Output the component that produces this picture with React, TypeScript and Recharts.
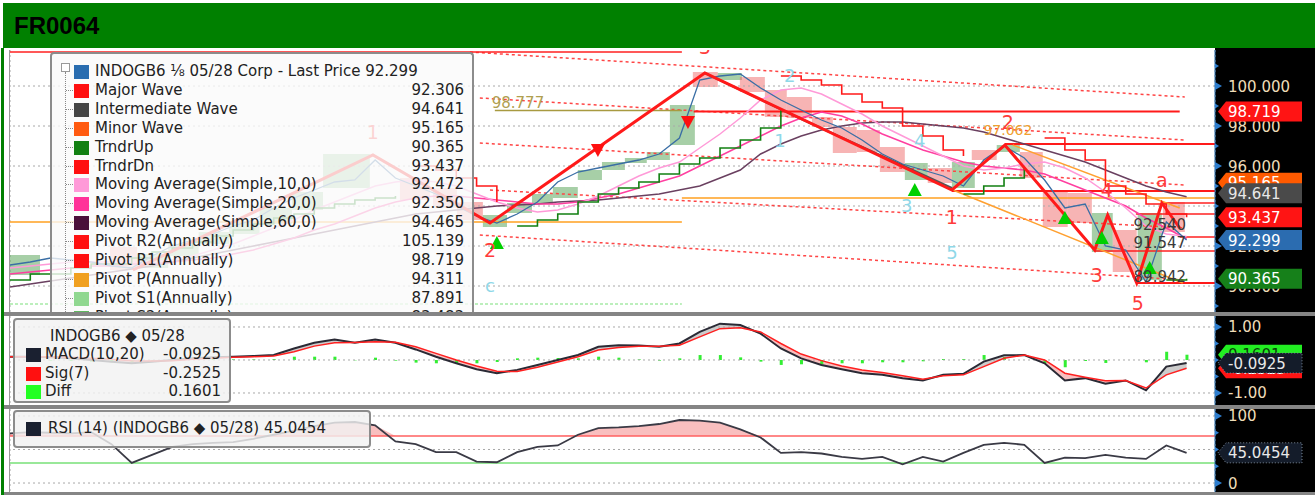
import React from "react";
import {
  ComposedChart,
  Line,
  Area,
  Bar,
  XAxis,
  YAxis,
  CartesianGrid,
  ReferenceLine,
  ReferenceArea,
  ReferenceDot,
} from "recharts";

const FONT = "DejaVu Sans, Verdana, sans-serif";
const X_MAX = 59.4;
// month separators (index units)
const GRID_X = [4.44, 9.36, 14.64, 18.73, 24.0, 29.08, 33.12, 38.2, 42.53, 47.41, 52.24, 56.83];

// ---- price panel series (one value per bar index) ----
const PRICE = [
  91.05, 91.2, 91.4, 91.3, 91.2, 91.0, 90.9, 91.5, 92.0, 92.3,
  92.6, 93.0, 93.3, 93.9, 94.4, 94.8, 95.2, 95.3, 96.3, 95.4,
  95.0, 94.6, 94.0, 93.5, 93.15, 93.6, 94.2, 95.2, 95.7, 95.9,
  96.1, 96.3, 96.6, 97.4, 100.3, 100.5, 100.6, 99.9, 99.3, 98.8,
  98.3, 97.9, 97.3, 96.6, 96.1, 95.8, 95.5, 95.0, 96.3, 97.0,
  96.4, 95.3, 93.9, 94.1, 92.0, 91.8, 90.2, 93.2, 92.299,
];
const MA10 = [
  90.9, 91.0, 91.1, 91.2, 91.2, 91.2, 91.2, 91.2, 91.3, 91.5,
  91.8, 92.1, 92.5, 92.9, 93.3, 93.8, 94.2, 94.6, 95.0, 95.2,
  95.3, 95.2, 95.0, 94.6, 94.2, 93.9, 93.7, 93.8, 94.1, 94.5,
  95.0, 95.5, 95.9, 96.2, 96.9, 97.6, 98.4, 99.3, 99.8, 99.9,
  99.6, 99.1, 98.6, 98.0, 97.5, 97.0, 96.5, 96.0, 95.8, 95.9,
  96.1, 96.2, 95.9, 95.4, 94.7, 93.9, 93.0, 92.6, 92.472,
];
const MA20 = [
  90.6, 90.7, 90.8, 90.9, 91.0, 91.0, 91.1, 91.1, 91.2, 91.3,
  91.4, 91.6, 91.8, 92.1, 92.4, 92.8, 93.1, 93.5, 93.9, 94.2,
  94.4, 94.5, 94.5, 94.4, 94.3, 94.2, 94.1, 94.1, 94.2, 94.4,
  94.6, 94.9, 95.2, 95.5, 96.0, 96.5, 97.0, 97.5, 98.0, 98.4,
  98.7, 98.5, 98.1, 97.6, 97.2, 96.8, 96.5, 96.2, 96.0, 95.9,
  95.8, 95.6, 95.2, 94.8, 94.4, 94.0, 93.4, 92.9, 92.35,
];
const MA60 = [
  89.95, 90.1, 90.25, 90.4, 90.55, 90.7, 90.85, 91.0, 91.2, 91.4,
  91.6, 91.8, 92.0, 92.2, 92.4, 92.6, 92.8, 93.0, 93.2, 93.4,
  93.6, 93.7, 93.8, 93.9, 94.0, 94.05, 94.1, 94.2, 94.25, 94.3,
  94.4, 94.5, 94.6, 94.8, 95.0, 95.4, 95.8, 96.6, 97.1, 97.5,
  97.8, 98.0, 98.15, 98.2, 98.2, 98.1, 98.0, 97.9, 97.7, 97.4,
  97.1, 96.8, 96.5, 96.2, 95.8, 95.4, 95.0, 94.7, 94.465,
];
const TRNDR_UP = [
  90.3, 90.6, 90.6, 90.9, 91.1, 91.1, 91.4, 91.7, 91.9, 92.2,
  92.5, 92.8, 93.1, 93.4, 93.6, 93.9, 94.1, 94.3, 94.4, 94.5,
  null, null, null, null, null, 93.0, 93.3, 93.6, 94.2, 94.6,
  94.9, 95.2, 95.6, 96.1, 96.4, 96.9, 97.3, 97.9, 98.9, null,
  null, null, null, null, null, null, null, 94.6, 95.0, 95.4,
  95.9, null, null, null, null, null, null, 90.3, 90.365,
];
const TRNDR_DN = [
  null, null, null, null, null, null, null, null, null, null,
  null, null, null, null, null, null, null, null, null, null,
  96.0, 95.8, 95.4, 95.0, 94.2, null, null, null, null, null,
  null, null, null, null, null, null, null, null, 100.5, 100.3,
  100.05, 99.6, 99.2, 98.9, 98.0, 97.5, 96.8, 96.5, null, null,
  null, 97.4, 96.8, 96.3, 95.0, 94.6, 94.1, 93.6, 93.437,
];

// wave pivots: [index, price]
const MAJOR_WAVE = [
  [6.06, 90.8], [17.89, 96.55], [23.66, 93.15], [34.25, 100.65], [46.43, 94.8],
  [49.04, 97.05], [53.47, 91.8], [54.11, 93.55], [55.54, 90.15], [56.78, 94.15], [57.66, 92.9],
];
const INTERMEDIATE_WAVE = [[34.25, 100.65], [39.0, 98.35], [46.43, 94.9]];
// channel lines: [fromIndex, fromValue, toIndex, toValue]
const MINOR_CHANNEL = [
  [46.48, 94.8, 57.81, 90.15],
  [49.43, 97.05, 57.66, 93.9],
];
const TREND_DOTTED = [
  [22.67, 101.7, 57.91, 99.45],
  [23.16, 99.4, 57.91, 97.3],
  [23.16, 97.15, 57.91, 95.05],
  [23.66, 94.8, 57.91, 92.9],
  [23.16, 92.55, 57.91, 90.3],
];
// horizontal levels: [value, fromIndex, toIndex, kind]
const LEVELS: [number, number, number, string][] = [
  [101.7, 0, 33.12, "red"],
  [93.2, 0, 33.12, "pivot"],
  [89.1, 0, 33.12, "support"],
  [98.777, 23.9, 33.12, "fib"],
  [98.719, 33.7, 57.66, "redBold"],
  [94.4, 33.12, X_MAX, "pivot"],
  [97.1, 49.04, X_MAX, "redBold"],
  [94.75, 46.43, X_MAX, "redBold"],
  [94.15, 56.78, X_MAX, "red"],
  [93.6, 55.5, X_MAX, "red"],
  [92.45, 57.66, X_MAX, "red"],
  [91.75, 53.47, X_MAX, "red"],
  [90.15, 55.54, X_MAX, "redBold"],
];
// boxes: [fromIndex, toIndex, low, high, up?]
const BOXES: [number, number, number, number, number][] = [
  [0, 1.48, 90.55, 91.55, 1], [4.93, 6.26, 90.8, 91.95, 0],
  [6.26, 7.8, 90.9, 91.6, 1], [7.8, 9.3, 91.5, 92.1, 1], [9.3, 10.8, 92.1, 92.7, 1],
  [10.8, 12.3, 92.6, 93.2, 1], [12.3, 13.9, 93.1, 93.9, 1], [13.9, 15.43, 93.8, 94.7, 1],
  [15.43, 17.74, 94.9, 96.6, 1], [19.22, 20.7, 94.3, 95.4, 0], [20.85, 22.03, 93.9, 94.9, 0],
  [22.03, 23.31, 93.3, 94.2, 0], [23.31, 24.5, 92.95, 93.55, 1], [24.5, 25.73, 93.65, 94.15, 1],
  [25.73, 26.76, 94.1, 94.6, 1], [26.76, 27.99, 94.4, 94.95, 1], [27.99, 29.18, 95.3, 95.8, 1],
  [29.18, 30.31, 95.8, 96.2, 1], [30.31, 31.39, 96.15, 96.4, 1], [31.39, 32.53, 96.3, 96.7, 1],
  [32.53, 33.76, 97.05, 99.05, 1], [33.66, 34.89, 99.95, 100.7, 0], [34.89, 36.08, 100.3, 100.65, 1],
  [35.98, 37.21, 99.7, 100.45, 0], [37.21, 38.29, 98.45, 99.8, 0], [38.29, 39.53, 98.4, 99.45, 0],
  [39.53, 40.56, 97.95, 98.45, 0], [40.56, 41.74, 96.65, 97.95, 0], [41.74, 42.88, 96.7, 97.8, 0],
  [42.88, 44.11, 95.7, 96.95, 0], [44.11, 45.24, 95.3, 96.15, 1], [45.24, 46.43, 95.15, 95.9, 0],
  [46.43, 47.56, 94.9, 96.2, 1], [47.41, 48.64, 96.3, 96.8, 0], [48.64, 49.78, 96.7, 97.05, 1],
  [49.78, 50.91, 95.4, 96.7, 0], [50.91, 52.14, 92.95, 94.8, 0], [52.14, 53.33, 93.15, 94.65, 0],
  [53.33, 54.36, 91.7, 93.65, 1], [54.36, 55.54, 90.7, 92.8, 0], [55.59, 56.78, 90.3, 93.65, 1],
  [56.83, 57.91, 92.7, 94.2, 0],
];
const SIGNAL_UP = [[24.0, 92.15], [44.6, 94.8], [52.0, 93.4], [53.82, 92.4], [56.18, 90.9]];
const SIGNAL_DOWN = [[28.98, 96.8], [33.42, 98.2]];
// annotations: [index, value, text, kind]
const ANNOTATIONS: [number, number, string, string][] = [
  [17.89, 97.7, "1", "major"], [23.66, 91.8, "2", "major"], [34.25, 101.95, "3", "major"],
  [46.43, 93.45, "1", "major"], [49.19, 98.2, "2", "major"], [53.57, 90.55, "3", "major"],
  [54.07, 94.8, "4", "major"], [55.59, 89.15, "5", "major"], [56.78, 95.3, "a", "major"],
  [23.66, 90.05, "c", "minor"], [38.44, 100.55, "2", "minor"], [37.95, 97.3, "1", "minor"],
  [44.85, 97.3, "4", "minor"], [44.2, 94.05, "3", "minor"], [46.43, 91.7, "5", "minor"],
  [49.19, 97.8, "97.062", "orange"], [25.04, 99.15, "98.777", "fib"],
  [56.68, 93.05, "92.540", "level"], [56.68, 92.15, "91.547", "level"], [56.68, 90.45, "89.942", "level"],
];
const PRICE_TICKS = [89, 90, 91, 92, 93, 94, 95, 96, 97, 98, 99, 100, 101];
const PRICE_LABELLED = [90, 92, 96, 98, 100];
const PRICE_GRID = [90, 92, 94, 96, 98, 100];
// last-value tags: [value, text, kind]
const PRICE_TAGS: [number, string, string][] = [
  [95.165, "95.165", "minorWave"],
  [98.719, "98.719", "red"],
  [94.641, "94.641", "gray"],
  [93.437, "93.437", "red"],
  [92.299, "92.299", "blue"],
  [90.365, "90.365", "green"],
];

// ---- MACD panel ----
const MACD = [
  0.1, 0.1, 0.08, 0.05, 0.0, -0.05, -0.1, -0.05, 0.0, 0.05,
  0.08, 0.1, 0.12, 0.15, 0.35, 0.52, 0.62, 0.52, 0.62, 0.52,
  0.32, 0.1, -0.1, -0.28, -0.4, -0.3, -0.15, 0.0, 0.15, 0.4,
  0.45, 0.44, 0.4, 0.5, 0.85, 1.1, 1.06, 0.8, 0.35, 0.05,
  -0.15, -0.28, -0.4, -0.45, -0.55, -0.62, -0.45, -0.42, -0.05, 0.14,
  0.15, -0.1, -0.62, -0.55, -0.72, -0.62, -0.92, -0.2, -0.0925,
];
const SIG = [
  0.1, 0.1, 0.1, 0.08, 0.05, 0.02, -0.02, -0.03, -0.02, 0.02,
  0.05, 0.08, 0.1, 0.12, 0.25, 0.42, 0.52, 0.53, 0.55, 0.54,
  0.4, 0.2, 0.0, -0.18, -0.34, -0.35, -0.22, -0.06, 0.1, 0.3,
  0.38, 0.42, 0.42, 0.45, 0.7, 0.95, 0.98, 0.85, 0.5, 0.18,
  -0.02, -0.18, -0.3, -0.38, -0.48, -0.58, -0.48, -0.45, -0.2, 0.05,
  0.15, 0.0, -0.4, -0.52, -0.63, -0.62, -0.85, -0.45, -0.2525,
];
const DIFF = [
  0.0, 0.0, -0.02, -0.03, -0.05, -0.07, -0.08, -0.02, 0.02, 0.03,
  0.03, 0.02, 0.02, 0.03, 0.1, 0.1, 0.1, -0.01, 0.07, -0.02,
  -0.08, -0.1, -0.1, -0.1, -0.06, 0.05, 0.07, 0.06, 0.05, 0.1,
  0.07, 0.02, -0.02, 0.05, 0.15, 0.15, 0.08, -0.05, -0.15, -0.13,
  -0.13, -0.1, -0.1, -0.07, -0.07, -0.04, 0.03, 0.03, 0.15, 0.09,
  0.0, -0.1, -0.22, -0.03, -0.09, 0.0, -0.07, 0.25, 0.1601,
];
const MACD_TICKS = [-1, -0.5, 0, 0.5, 1];
const MACD_LABELLED = [-1, 1];
const MACD_GRID = [-1, 0, 1];
const MACD_TAGS: [number, string, string][] = [
  [0.1601, "0.1601", "lime"],
  [-0.2525, "-0.2525", "red"],
  [-0.0925, "-0.0925", "navy"],
];

// ---- RSI panel ----
const RSI = [
  74, 76, 75, 74, 76, 58, 30, 42, 54, 58,
  60, 61, 66, 72, 78, 85, 90, 91, 86, 62,
  58, 46, 46, 32, 31, 46, 54, 56, 72, 82,
  83, 85, 88, 94, 93, 90, 80, 68, 45, 46,
  44, 39, 36, 39, 28, 39, 32, 45, 57, 60,
  57, 30, 38, 37, 42, 38, 36, 56, 45.0454,
];
const RSI_TICKS = [0, 25, 50, 75, 100];
const RSI_LABELLED = [0, 100];
const RSI_GRID = [0, 50, 100];
const RSI_TAGS: [number, string, string][] = [[45.0454, "45.0454", "navy"]];

// ---- legends ----
const LEGEND_TITLE = "INDOGB6 \u215B 05/28 Corp - Last Price 92.299";
const LEGEND_NAMES = [
  "Major Wave", "Intermediate Wave", "Minor Wave", "TrndrUp", "TrndrDn",
  "Moving Average(Simple,10,0)", "Moving Average(Simple,20,0)", "Moving Average(Simple,60,0)",
  "Pivot R2(Annually)", "Pivot R1(Annually)", "Pivot P(Annually)", "Pivot S1(Annually)", "Pivot S2(Annually)",
];
const LEGEND_VALUES = [
  "92.306", "94.641", "95.165", "90.365", "93.437", "92.472", "92.350", "94.465",
  "105.139", "98.719", "94.311", "87.891", "83.483",
];
const MACD_NAMES = ["MACD(10,20)", "Sig(7)", "Diff"];
const MACD_VALUES = ["-0.0925", "-0.2525", "0.1601"];

// ---- styles ----
const LEGEND_SWATCH = [
  "#ff1010", "#454545", "#ff5a10", "#128012", "#ff1010", "#ff9ad8", "#ff3399",
  "#4a0f3a", "#ff1010", "#ff1010", "#f0a020", "#90d890", "#60b860",
];
const MACD_SWATCH = ["#1a2030", "#ff1010", "#22ff22"];
const LEVEL_STYLE: Record<string, { stroke: string; width: number; dash?: string }> = {
  red: { stroke: "#ff2020", width: 1.5 },
  redBold: { stroke: "#ff1a1a", width: 2 },
  pivot: { stroke: "#ffa020", width: 1.5 },
  support: { stroke: "#7be07b", width: 1.2, dash: "3 2" },
  fib: { stroke: "#a89a40", width: 1.5 },
};
const TEXT_STYLE: Record<string, { fill: string; size: number }> = {
  major: { fill: "#ff3b3b", size: 19 },
  minor: { fill: "#8fd8e8", size: 18 },
  orange: { fill: "#f0a030", size: 14 },
  fib: { fill: "#b0a050", size: 15 },
  level: { fill: "#3a3a3a", size: 15 },
};
const TAG_STYLE: Record<string, { fill: string; text: string; border?: boolean }> = {
  red: { fill: "#ff1414", text: "#ffffff" },
  minorWave: { fill: "#ff5a00", text: "#ffffff" },
  gray: { fill: "#4a4a4a", text: "#e8e8e8" },
  blue: { fill: "#2b6cb0", text: "#ffffff" },
  green: { fill: "#16801a", text: "#ffffff" },
  lime: { fill: "#22ee22", text: "#0a3a0a" },
  navy: { fill: "#141c2a", text: "#e8e8e8", border: true },
};

const rows = PRICE.map((p, i) => ({
  i,
  price: p,
  ma10: MA10[i],
  ma20: MA20[i],
  ma60: MA60[i],
  up: TRNDR_UP[i],
  dn: TRNDR_DN[i],
}));
const macdRows = MACD.map((m, i) => ({
  i,
  macd: m,
  sig: SIG[i],
  diff: DIFF[i],
  above: [SIG[i], Math.max(SIG[i], m)],
  below: [Math.min(SIG[i], m), SIG[i]],
}));
const rsiRows = RSI.map((r, i) => ({ i, rsi: r, hot: [70, Math.max(70, r)] }));
const toPoints = (pts: number[][]) => pts.map(([i, v]) => ({ i, v }));

function axisTick(labelled: number[], fmt: (v: number) => string) {
  return (props: any) => {
    const { x, y, payload } = props;
    if (!labelled.includes(payload.value)) {
      return <path d={`M${x},${y - 2.5} L${x + 4},${y} L${x},${y + 2.5} Z`} fill="#2f7fd0" />;
    }
    return (
      <g>
        <path d={`M${x},${y - 4} L${x + 7},${y} L${x},${y + 4} Z`} fill="#2f7fd0" />
        <text x={x + 13} y={y + 5.5} fill="#efdcb8" fontSize={15} fontFamily={FONT}>
          {fmt(payload.value)}
        </text>
      </g>
    );
  };
}

function tagShape(text: string, kind: string) {
  const s = TAG_STYLE[kind];
  return (p: any) => {
    const x = p.cx + 3;
    const y = p.cy;
    return (
      <g>
        <path
          d={`M${x},${y} L${x + 8},${y - 10} L${x + 84},${y - 10} L${x + 84},${y + 10} L${x + 8},${y + 10} Z`}
          fill={s.fill}
          stroke={s.border ? "#7d8a99" : "none"}
          strokeDasharray={s.border ? "1 2" : undefined}
        />
        <text x={x + 10} y={y + 5.5} fill={s.text} fontSize={15} fontFamily={FONT}>
          {text}
        </text>
      </g>
    );
  };
}

const triUp = (p: any) => (
  <path d={`M${p.cx},${p.cy - 7} L${p.cx + 7},${p.cy + 6} L${p.cx - 7},${p.cy + 6} Z`} fill="#00d000" />
);
const triDown = (p: any) => (
  <path d={`M${p.cx - 7},${p.cy - 6} L${p.cx + 7},${p.cy - 6} L${p.cx},${p.cy + 7} Z`} fill="#ff1010" />
);
function textShape(text: string, kind: string) {
  const s = TEXT_STYLE[kind];
  return (p: any) => (
    <text
      x={p.cx}
      y={p.cy}
      fill={s.fill}
      fontSize={s.size}
      fontFamily={FONT}
      textAnchor="middle"
      dominantBaseline="central"
    >
      {text}
    </text>
  );
}

function xAxis() {
  return (
    <XAxis
      dataKey="i"
      type="number"
      domain={[0, X_MAX]}
      ticks={GRID_X}
      tick={false}
      tickLine={false}
      axisLine={false}
      height={0}
      allowDataOverflow
    />
  );
}

function yAxis(domain: number[], ticks: number[], labelled: number[], fmt: (v: number) => string) {
  return (
    <YAxis
      orientation="right"
      width={100}
      domain={domain}
      ticks={ticks}
      interval={0}
      allowDataOverflow
      tickSize={0}
      tickMargin={0}
      tickLine={false}
      axisLine={{ stroke: "#2a70b0" }}
      tick={axisTick(labelled, fmt)}
    />
  );
}

function tags(list: [number, string, string][]) {
  return list.map(([v, text, kind], k) => (
    <ReferenceDot
      key={`tag${k}`}
      x={X_MAX}
      y={v}
      r={0}
      shape={tagShape(text, kind)}
      ifOverflow="visible"
      {...({ zIndex: 2500 } as any)}
    />
  ));
}

function PriceChart() {
  return (
    <ComposedChart width={1305} height={262} data={rows} margin={{ top: 0, right: 0, bottom: 0, left: 0 }}>
      <CartesianGrid horizontal={false} stroke="#a8a8a8" strokeDasharray="2 3" />
      {xAxis()}
      {yAxis([88.7, 101.8], PRICE_TICKS, PRICE_LABELLED, (v) => v.toFixed(3))}
      {PRICE_GRID.map((v) => (
        <ReferenceLine key={`g${v}`} y={v} stroke="#a8a8a8" strokeDasharray="2 3" />
      ))}
      {BOXES.map(([a, b, lo, hi, up], k) => (
        <ReferenceArea
          key={`b${k}`}
          x1={a}
          x2={b}
          y1={lo}
          y2={hi}
          fill={up ? "#4f9f4f" : "#f06a6a"}
          fillOpacity={0.5}
          stroke="none"
          ifOverflow="visible"
        />
      ))}
      {TREND_DOTTED.map(([a, va, b, vb], k) => (
        <ReferenceLine
          key={`t${k}`}
          segment={[{ x: a, y: va }, { x: b, y: vb }]}
          stroke="#ff4545"
          strokeWidth={1.5}
          strokeDasharray="3 3"
          ifOverflow="visible"
        />
      ))}
      {LEVELS.map(([v, a, b, kind], k) => (
        <ReferenceLine
          key={`l${k}`}
          segment={[{ x: a, y: v }, { x: b, y: v }]}
          stroke={LEVEL_STYLE[kind].stroke}
          strokeWidth={LEVEL_STYLE[kind].width}
          strokeDasharray={LEVEL_STYLE[kind].dash}
          ifOverflow="visible"
        />
      ))}
      {MINOR_CHANNEL.map(([a, va, b, vb], k) => (
        <ReferenceLine
          key={`m${k}`}
          segment={[{ x: a, y: va }, { x: b, y: vb }]}
          stroke="#ffa030"
          strokeWidth={1.5}
          ifOverflow="visible"
        />
      ))}
      <Line dataKey="ma60" stroke="#6a4060" strokeWidth={1.5} dot={false} activeDot={false} isAnimationActive={false} />
      <Line dataKey="ma20" stroke="#ff3fa0" strokeWidth={1.5} dot={false} activeDot={false} isAnimationActive={false} />
      <Line dataKey="ma10" stroke="#ff9ad8" strokeWidth={1.5} dot={false} activeDot={false} isAnimationActive={false} />
      <Line type="stepAfter" dataKey="up" stroke="#128012" strokeWidth={1.6} dot={false} activeDot={false} isAnimationActive={false} />
      <Line type="stepAfter" dataKey="dn" stroke="#ff1a1a" strokeWidth={1.6} dot={false} activeDot={false} isAnimationActive={false} />
      <Line dataKey="price" stroke="#3a6ea5" strokeWidth={1.3} dot={false} activeDot={false} isAnimationActive={false} />
      <Line
        data={toPoints(INTERMEDIATE_WAVE)}
        dataKey="v"
        stroke="#555555"
        strokeWidth={2}
        dot={false}
        activeDot={false}
        isAnimationActive={false}
      />
      <Line
        data={toPoints(MAJOR_WAVE)}
        dataKey="v"
        stroke="#ff1a1a"
        strokeWidth={3}
        dot={false}
        activeDot={false}
        isAnimationActive={false}
      />
      {SIGNAL_UP.map(([i, v], k) => (
        <ReferenceDot key={`u${k}`} x={i} y={v} r={0} shape={triUp} ifOverflow="visible" />
      ))}
      {SIGNAL_DOWN.map(([i, v], k) => (
        <ReferenceDot key={`d${k}`} x={i} y={v} r={0} shape={triDown} ifOverflow="visible" />
      ))}
      {ANNOTATIONS.map(([i, v, text, kind], k) => (
        <ReferenceDot key={`a${k}`} x={i} y={v} r={0} shape={textShape(text, kind)} ifOverflow="visible" />
      ))}
      {tags(PRICE_TAGS)}
    </ComposedChart>
  );
}

function MacdChart() {
  return (
    <ComposedChart width={1305} height={89} data={macdRows} margin={{ top: 0, right: 0, bottom: 0, left: 0 }}>
      <CartesianGrid horizontal={false} stroke="#a8a8a8" strokeDasharray="2 3" />
      {xAxis()}
      {yAxis([-1.364, 1.333], MACD_TICKS, MACD_LABELLED, (v) => v.toFixed(2))}
      {MACD_GRID.map((v) => (
        <ReferenceLine key={`g${v}`} y={v} stroke="#a8a8a8" strokeDasharray="2 3" />
      ))}
      <Bar dataKey="diff" fill="#33ee33" barSize={3} isAnimationActive={false} />
      <Area dataKey="above" stroke="none" fill="#9a9a9a" fillOpacity={0.5} isAnimationActive={false} activeDot={false} />
      <Area dataKey="below" stroke="none" fill="#f07070" fillOpacity={0.45} isAnimationActive={false} activeDot={false} />
      <Line dataKey="macd" stroke="#2a2a35" strokeWidth={2} dot={false} activeDot={false} isAnimationActive={false} />
      <Line dataKey="sig" stroke="#ff2020" strokeWidth={1.5} dot={false} activeDot={false} isAnimationActive={false} />
      {tags(MACD_TAGS)}
    </ComposedChart>
  );
}

function RsiChart() {
  return (
    <ComposedChart width={1305} height={83} data={rsiRows} margin={{ top: 0, right: 0, bottom: 0, left: 0 }}>
      <CartesianGrid horizontal={false} stroke="#a8a8a8" strokeDasharray="2 3" />
      {xAxis()}
      {yAxis([-13.4, 110.4], RSI_TICKS, RSI_LABELLED, (v) => String(v))}
      {RSI_GRID.map((v) => (
        <ReferenceLine key={`g${v}`} y={v} stroke="#a8a8a8" strokeDasharray="2 3" />
      ))}
      <ReferenceLine y={70} stroke="#ff6060" strokeWidth={1.5} />
      <ReferenceLine y={30} stroke="#77e077" strokeWidth={1.5} />
      <Area dataKey="hot" stroke="none" fill="#f48a8a" fillOpacity={0.55} isAnimationActive={false} activeDot={false} />
      <Line dataKey="rsi" stroke="#3a3a45" strokeWidth={1.8} dot={false} activeDot={false} isAnimationActive={false} />
      {tags(RSI_TAGS)}
    </ComposedChart>
  );
}

const swatch = (color: string, left: number, top: number) => (
  <div style={{ position: "absolute", left, top, width: 15, height: 14, background: color }} />
);

function PriceLegend() {
  const rowY = (k: number) => 8 + 18.9 * k;
  return (
    <div
      style={{
        position: "absolute",
        left: 50,
        top: 52,
        width: 420,
        height: 258,
        border: "2px solid #8c8c8c",
        borderBottom: "none",
        borderRadius: "4px 4px 0 0",
        background: "rgba(250,250,250,0.8)",
        fontFamily: FONT,
        fontSize: 15,
        color: "#222",
        overflow: "hidden",
      }}
    >
      <div style={{ position: "absolute", left: 9, top: 9, width: 7, height: 7, border: "1px solid #999", background: "#fff" }} />
      <div style={{ position: "absolute", left: 13, top: 18, width: 0, height: 260, borderLeft: "1px dotted #888" }} />
      {swatch("#2a6db0", 22, rowY(0) + 3)}
      <div style={{ position: "absolute", left: 43, top: rowY(0), lineHeight: "19px", whiteSpace: "nowrap" }}>{LEGEND_TITLE}</div>
      {LEGEND_NAMES.map((name, k) => (
        <React.Fragment key={name}>
          <div style={{ position: "absolute", left: 14, top: rowY(k + 1) + 9, width: 7, borderTop: "1px dotted #888" }} />
          {swatch(LEGEND_SWATCH[k], 22, rowY(k + 1) + 3)}
          <div style={{ position: "absolute", left: 43, top: rowY(k + 1), lineHeight: "19px", whiteSpace: "nowrap" }}>{name}</div>
          <div style={{ position: "absolute", right: 8, top: rowY(k + 1), lineHeight: "19px", whiteSpace: "nowrap" }}>
            {LEGEND_VALUES[k]}
          </div>
        </React.Fragment>
      ))}
    </div>
  );
}

function MacdLegend() {
  return (
    <div
      style={{
        position: "absolute",
        left: 13,
        top: 318,
        width: 214,
        height: 81,
        border: "2px solid #8c8c8c",
        borderRadius: 4,
        background: "rgba(242,242,242,0.82)",
        fontFamily: FONT,
        fontSize: 15,
        color: "#222",
      }}
    >
      <div style={{ position: "absolute", left: 35, top: 7, lineHeight: "19px", whiteSpace: "nowrap" }}>INDOGB6 ◆ 05/28</div>
      {MACD_NAMES.map((name, k) => (
        <React.Fragment key={name}>
          {swatch(MACD_SWATCH[k], 11, 28 + 18.5 * k)}
          <div style={{ position: "absolute", left: 30, top: 25 + 18.5 * k, lineHeight: "19px", whiteSpace: "nowrap" }}>{name}</div>
          <div style={{ position: "absolute", right: 8, top: 25 + 18.5 * k, lineHeight: "19px" }}>{MACD_VALUES[k]}</div>
        </React.Fragment>
      ))}
    </div>
  );
}

function RsiLegend() {
  return (
    <div
      style={{
        position: "absolute",
        left: 13,
        top: 410,
        width: 354,
        height: 34,
        border: "2px solid #8c8c8c",
        borderRadius: 4,
        background: "rgba(242,242,242,0.82)",
        fontFamily: FONT,
        fontSize: 15,
        color: "#222",
      }}
    >
      {swatch("#1a2030", 11, 10)}
      <div style={{ position: "absolute", left: 33, top: 7, lineHeight: "19px", whiteSpace: "nowrap" }}>
        RSI (14) (INDOGB6 ◆ 05/28) 45.0454
      </div>
    </div>
  );
}

const bar = (top: number, height: number) => (
  <div style={{ position: "absolute", left: 4, top, width: 1311, height, background: "#858585" }} />
);

export default function App() {
  return (
    <div style={{ position: "relative", width: 1315, height: 495, background: "#ffffff", overflow: "hidden" }}>
      <style>{"body{margin:0}"}</style>
      <div
        style={{
          position: "absolute",
          left: 3,
          top: 3,
          width: 1312,
          height: 45,
          background: "#008000",
          fontFamily: "Liberation Sans, Arial, sans-serif",
          fontWeight: 700,
          fontSize: 24,
          lineHeight: "45px",
          color: "#000",
          paddingLeft: 11,
          boxSizing: "border-box",
        }}
      >
        FR0064
      </div>
      <div style={{ position: "absolute", left: 1, top: 48, width: 3, height: 447, background: "#008000" }} />
      <div style={{ position: "absolute", left: 9, top: 50, width: 1, height: 442, background: "#9a9a9a" }} />
      <div style={{ position: "absolute", left: 1215, top: 48, width: 100, height: 447, background: "#000" }} />
      <div style={{ position: "absolute", left: 10, top: 50 }}>
        <PriceChart />
      </div>
      {bar(312, 4)}
      <div style={{ position: "absolute", left: 10, top: 316 }}>
        <MacdChart />
      </div>
      {bar(405, 4)}
      <div style={{ position: "absolute", left: 10, top: 409 }}>
        <RsiChart />
      </div>
      {bar(492, 3)}
      <PriceLegend />
      <MacdLegend />
      <RsiLegend />
    </div>
  );
}
